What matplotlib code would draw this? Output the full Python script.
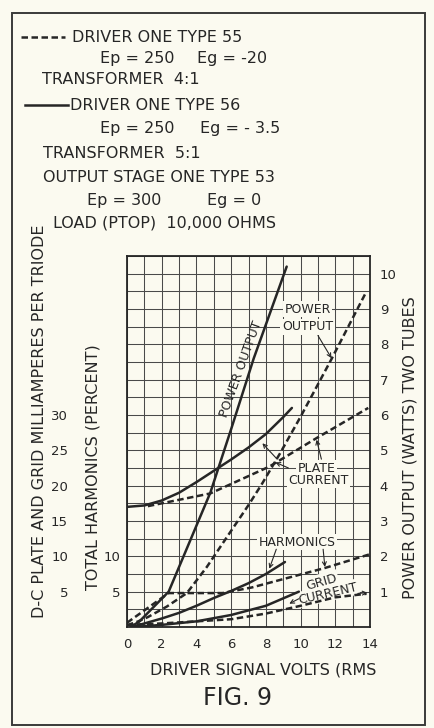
import numpy as np
import matplotlib
matplotlib.use("Agg")
import matplotlib.pyplot as plt
from matplotlib.lines import Line2D
from matplotlib.patches import Rectangle

# ---- readings (x = driver signal volts RMS) ----
# power output, watts (two tubes)
pw56_v = [0.2, 0.7, 1.2, 1.8, 2.4, 4.8, 6.0, 7.3, 9.2]
pw56_w = [0.0, 0.15, 0.4, 0.7, 1.0, 3.8, 5.6, 7.6, 10.2]
pw55_v = [0.0, 0.6, 1.2, 2.3, 3.45, 4.6, 5.9, 7.0, 7.8, 8.8, 10.0, 11.8, 13.8]
pw55_w = [0.05, 0.15, 0.28, 0.58, 0.96, 1.7, 2.65, 3.45, 4.07, 4.9, 5.95, 7.6, 9.5]

# d-c plate current, milliamperes per triode
ip56_v = [0, 1, 2, 3, 4, 5, 6, 7, 8, 9, 9.5]
ip56_ma = [17.0, 17.2, 17.9, 19.0, 20.5, 22.1, 23.7, 25.4, 27.3, 29.7, 31.0]
ip55_v = [1.2, 3.0, 4.8, 6.5, 8.2, 10.9, 13.9]
ip55_ma = [17.1, 18.0, 18.9, 20.8, 22.7, 26.7, 31.0]

# total harmonics, percent
hm56_v = [0.3, 1, 2, 3, 4, 5, 6, 7, 8, 9.1]
hm56_pct = [0.0, 0.5, 1.2, 2.0, 3.0, 4.1, 5.1, 6.2, 7.5, 9.2]
hm55_v = [0.0, 2.4, 5.5, 7.2, 11.4, 14.0]
hm55_pct = [0.6, 4.8, 4.8, 5.6, 8.35, 10.3]

# grid current, milliamperes per triode
ig56_v = [0.4, 2, 4, 6, 8, 9.9]
ig56_ma = [0.0, 0.3, 0.8, 1.7, 3.0, 5.0]
ig55_v = [0, 2, 4, 6, 8, 10, 12, 13.8]
ig55_ma = [0.3, 0.5, 0.8, 1.1, 1.9, 3.0, 4.2, 4.7]

# axis ticks
x_ticks = [0, 2, 4, 6, 8, 10, 12, 14]
watt_ticks = [1, 2, 3, 4, 5, 6, 7, 8, 9, 10]
ma_ticks = [5, 10, 15, 20, 25, 30]
pct_ticks = [5, 10]

BG = "#fbfaf0"
INK = "#262626"
GRID = "#4a4a4a"
LW = 1.8
DASH = (0, (2.6, 1.4))
FONT = "DejaVu Sans"

plt.rcParams["font.family"] = [FONT]

W, H = 435, 728
fig = plt.figure(figsize=(W / 100, H / 100), dpi=100, facecolor=BG)


def fx(px):
    return px / W


def fy(py):
    return 1 - py / H


# outer frame of the figure
fig.add_artist(Rectangle((fx(12), fy(725)), (425 - 12) / W, (725 - 13) / H,
                         transform=fig.transFigure, fill=False, lw=1.4, ec="#3a3a3a"))

# plotting area: watts on the main scale, 1 W = 5 mA = 5 %
ax = fig.add_axes([fx(127), fy(627), 243 / W, 371 / H])
# second scale for milliamperes and percent
ax2 = ax.twinx()
ax2.set_ylim(0, 52.5)
ax2.axis("off")

ax.set_facecolor(BG)
ax.set_xlim(0, 14)
ax.set_ylim(0, 10.5)
ax.set_xticks(x_ticks)
ax.set_xticklabels([str(t) for t in x_ticks])
ax.set_xticks(np.arange(0, 15, 1), minor=True)
ax.yaxis.tick_right()
ax.set_yticks(watt_ticks)
ax.set_yticklabels([str(t) for t in watt_ticks])
ax.set_yticks(np.arange(0, 10.51, 0.5), minor=True)
ax.grid(True, which="both", color=GRID, lw=0.75)
ax.set_axisbelow(True)
ax.tick_params(axis="both", which="both", length=0, colors=INK, labelsize=9.5)
ax.tick_params(axis="x", pad=8)
ax.tick_params(axis="y", pad=7)
for s in ax.spines.values():
    s.set_color(INK)
    s.set_linewidth(1.3)

# left-hand scales
sec_ma = ax.secondary_yaxis(-0.243, functions=(lambda w: w * 5, lambda m: m / 5))
sec_ma.set_yticks(ma_ticks)
sec_ma.set_yticklabels([str(t) for t in ma_ticks])
sec_ma.tick_params(length=0, pad=0, labelsize=9.5, colors=INK)
for s in sec_ma.spines.values():
    s.set_visible(False)

sec_pct = ax.secondary_yaxis(-0.025, functions=(lambda w: w * 5, lambda p: p / 5))
sec_pct.set_yticks(pct_ticks)
sec_pct.set_yticklabels([str(t) for t in pct_ticks])
sec_pct.tick_params(length=0, pad=0, labelsize=9.5, colors=INK)
for s in sec_pct.spines.values():
    s.set_visible(False)

# curves
ax.plot(pw56_v, pw56_w, color=INK, lw=LW, solid_capstyle="round")
ax.plot(pw55_v, pw55_w, color=INK, lw=LW, ls=DASH)
ax2.plot(ip56_v, ip56_ma, color=INK, lw=LW, solid_capstyle="round")
ax2.plot(ip55_v, ip55_ma, color=INK, lw=LW, ls=DASH)
ax2.plot(hm56_v, hm56_pct, color=INK, lw=LW, solid_capstyle="round")
ax2.plot(hm55_v, hm55_pct, color=INK, lw=LW, ls=DASH)
ax2.plot(ig56_v, ig56_ma, color=INK, lw=LW, solid_capstyle="round")
ax2.plot(ig55_v, ig55_ma, color=INK, lw=LW, ls=DASH)

# curve labels
knock = dict(boxstyle="square,pad=0.12", fc=BG, ec="none")
lab = dict(color=INK, fontsize=9, ha="center", va="center")
arrow = dict(arrowstyle="->", lw=0.8, color=INK, shrinkA=0, shrinkB=0,
             mutation_scale=7)

ax.text(6.6, 7.3, "POWER OUTPUT", rotation=70, rotation_mode="anchor", **lab)

ax.text(10.4, 9.0, "POWER", bbox=knock, **lab)
ax.text(10.4, 8.5, "OUTPUT", bbox=knock, **lab)
ax.annotate("", xy=(11.78, 7.61), xytext=(11.0, 8.25), arrowprops=arrow)

ax.text(10.9, 4.5, "PLATE", bbox=knock, **lab)
ax.text(11.05, 4.16, "CURRENT", bbox=knock, **lab)
ax.annotate("", xy=(7.8, 5.2), xytext=(8.65, 4.75), arrowprops=arrow)
ax.annotate("", xy=(8.55, 4.66), xytext=(9.3, 4.5), arrowprops=arrow)
ax.annotate("", xy=(10.92, 5.3), xytext=(11.2, 4.75), arrowprops=arrow)

ax.text(9.8, 2.4, "HARMONICS", bbox=knock, **lab)
ax.annotate("", xy=(8.2, 1.65), xytext=(8.6, 2.2), arrowprops=arrow)
ax.annotate("", xy=(11.4, 1.7), xytext=(11.3, 2.2), arrowprops=arrow)

ax.text(11.2, 1.28, "GRID", rotation=16, bbox=knock, **lab)
ax.text(11.55, 0.95, "CURRENT", rotation=13, bbox=knock, **lab)
ax.annotate("", xy=(9.35, 0.66), xytext=(9.9, 0.8), arrowprops=arrow)
ax.annotate("", xy=(13.85, 0.97), xytext=(13.3, 0.95), arrowprops=arrow)

# axis titles
tkw = dict(color=INK, ha="center", va="center", fontsize=11.5)
fig.text(fx(40), fy(421), "D-C PLATE AND GRID MILLIAMPERES PER TRIODE",
         rotation=90, **tkw)
fig.text(fx(93), fy(467), "TOTAL HARMONICS (PERCENT)", rotation=90, **tkw)
fig.text(fx(410), fy(448), "POWER OUTPUT (WATTS) TWO TUBES", rotation=90, **tkw)
fig.text(fx(263), fy(670), "DRIVER SIGNAL VOLTS (RMS", **tkw)
fig.text(fx(238), fy(698), "FIG. 9", color=INK, ha="center", va="center",
         fontsize=17)

# heading with the key to the line styles
hkw = dict(color=INK, ha="left", va="center", fontsize=11.5)
fig.add_artist(Line2D([fx(21), fx(65)], [fy(37), fy(37)], transform=fig.transFigure,
                      color=INK, lw=LW, ls=DASH))
fig.text(fx(72), fy(37), "DRIVER ONE TYPE 55", **hkw)
fig.text(fx(100), fy(58), "Ep = 250", **hkw)
fig.text(fx(197), fy(58), "Eg = -20", **hkw)
fig.text(fx(42), fy(79), "TRANSFORMER  4:1", **hkw)
fig.add_artist(Line2D([fx(25), fx(68)], [fy(105), fy(105)], transform=fig.transFigure,
                      color=INK, lw=LW))
fig.text(fx(70), fy(105), "DRIVER ONE TYPE 56", **hkw)
fig.text(fx(100), fy(128), "Ep = 250", **hkw)
fig.text(fx(200), fy(128), "Eg = - 3.5", **hkw)
fig.text(fx(43), fy(153), "TRANSFORMER  5:1", **hkw)
fig.text(fx(43), fy(177), "OUTPUT STAGE ONE TYPE 53", **hkw)
fig.text(fx(87), fy(200), "Ep = 300", **hkw)
fig.text(fx(207), fy(200), "Eg = 0", **hkw)
fig.text(fx(53), fy(223), "LOAD (PTOP)  10,000 OHMS", **hkw)

fig.savefig("out.png", dpi=100, facecolor=BG)
